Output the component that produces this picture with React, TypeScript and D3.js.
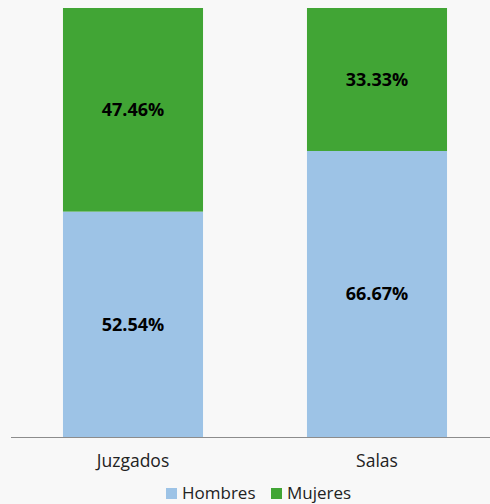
import React, { useEffect, useRef } from 'react';
import * as d3 from 'd3';

const categories = ['Juzgados', 'Salas'];
const hombres = [52.54, 66.67];
const mujeres = [47.46, 33.33];
const seriesNames = ['Hombres', 'Mujeres'];
const seriesColors = ['#9dc3e6', '#41a535'];

const W = 490;
const H = 504;

const App = () => {
  const svgRef = useRef<SVGSVGElement>(null);

  useEffect(() => {
    const svg = d3.select(svgRef.current);
    svg.selectAll('*').remove();

    const baseY = 437;
    const font = "'Open Sans', 'DejaVu Sans', sans-serif";

    svg.append('rect').attr('width', W).attr('height', H).attr('fill', '#f8f8f8');

    const xScale = d3
      .scaleBand()
      .domain(categories)
      .range([11, 499])
      .paddingInner(0.426)
      .paddingOuter(0.213);

    const yScale = d3.scaleLinear().domain([0, 100]).range([baseY, 8]);

    const rows = categories.map((c, i) => ({ cat: c, Hombres: hombres[i], Mujeres: mujeres[i] }));
    const stacked = d3.stack<any>().keys(seriesNames)(rows);

    stacked.forEach((layer, li) => {
      const g = svg.append('g');
      g.selectAll('rect')
        .data(layer)
        .enter()
        .append('rect')
        .attr('x', (d: any) => xScale(d.data.cat)!)
        .attr('y', (d) => yScale(d[1]))
        .attr('width', xScale.bandwidth())
        .attr('height', (d) => yScale(d[0]) - yScale(d[1]))
        .attr('fill', seriesColors[li]);

      g.selectAll('text')
        .data(layer)
        .enter()
        .append('text')
        .attr('x', (d: any) => xScale(d.data.cat)! + xScale.bandwidth() / 2)
        .attr('y', (d) => (yScale(d[0]) + yScale(d[1])) / 2)
        .attr('dy', '0.35em')
        .attr('text-anchor', 'middle')
        .attr('font-family', font)
        .attr('font-weight', 'bold')
        .attr('font-size', 18)
        .attr('fill', '#000')
        .text((d) => `${(d[1] - d[0]).toFixed(2)}%`);
    });

    // axis line
    svg
      .append('line')
      .attr('x1', 11)
      .attr('x2', W)
      .attr('y1', baseY + 0.5)
      .attr('y2', baseY + 0.5)
      .attr('stroke', '#8c8c8c')
      .attr('stroke-width', 1);

    svg
      .selectAll('.cat')
      .data(categories)
      .enter()
      .append('text')
      .attr('x', (d) => xScale(d)! + xScale.bandwidth() / 2)
      .attr('y', 461)
      .attr('dy', '0.35em')
      .attr('font-family', font)
      .attr('text-anchor', 'middle')
      .attr('font-size', 17.5)
      .attr('fill', '#222')
      .text((d) => d);

    // legend
    const legendX = [166, 271];
    const lg = svg
      .selectAll('.leg')
      .data(seriesNames)
      .enter()
      .append('g')
      .attr('transform', (_, i) => `translate(${legendX[i]}, 488)`);
    lg.append('rect').attr('width', 11).attr('height', 11).attr('fill', (_, i) => seriesColors[i]);
    lg.append('text')
      .attr('x', 16)
      .attr('y', 5.5)
      .attr('dy', '0.35em')
      .attr('font-family', font)
      .attr('font-size', 17)
      .attr('fill', '#222')
      .text((d) => d);
  }, []);

  return (
    <svg
      ref={svgRef}
      width={W}
      height={H}
      style={{ position: 'absolute', left: 0, top: 0 }}
    ></svg>
  );
};

export default App;
